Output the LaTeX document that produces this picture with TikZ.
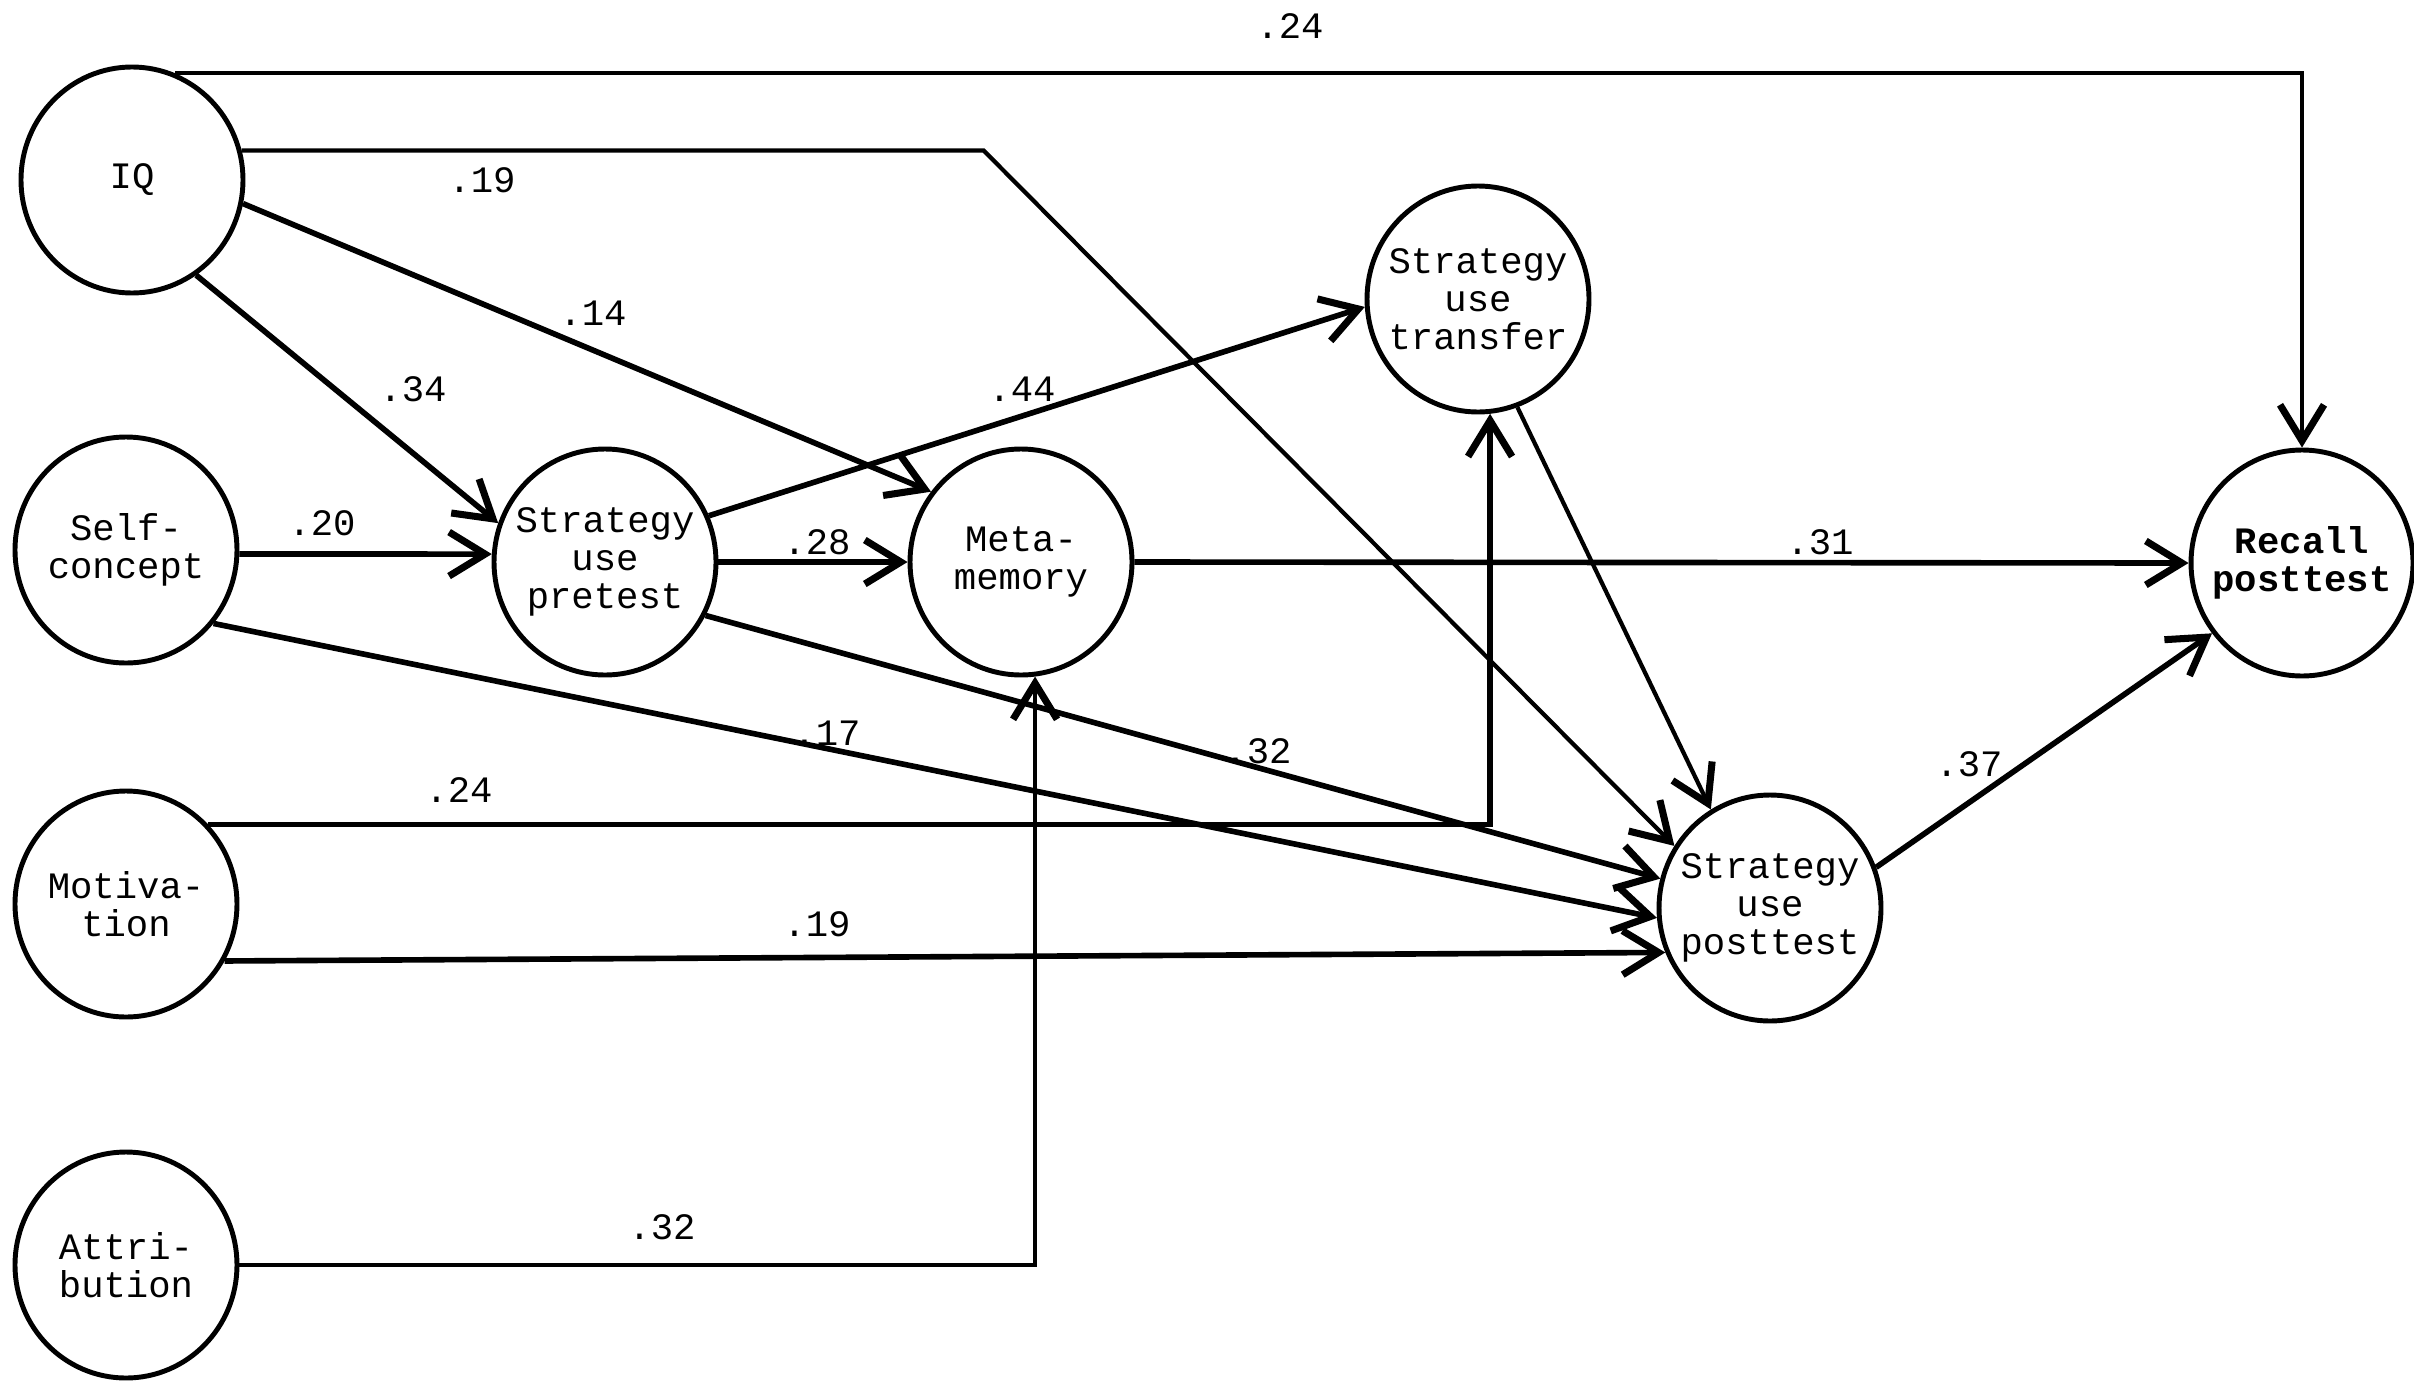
\documentclass[tikz,border=0pt]{standalone}
\usepackage{fontspec}
\setmonofont{Liberation Mono}
\usetikzlibrary{arrows.meta,shapes.geometric}

\begin{document}
\begin{tikzpicture}[scale=1]
	\tikzstyle{construct}=[ellipse,draw,line width=1.4pt,minimum width=2.22cm,minimum height=2.26cm,inner xsep=-0.4cm,inner ysep=0pt,align=center,font=\ttfamily\fontsize{10.6}{10.8}\selectfont]
	\tikzstyle{coefficient}=[font=\ttfamily\fontsize{10.6}{12}\selectfont,inner sep=1pt]
	\tikzstyle{causal}=[line width=1.6pt,-{Straight Barb[length=3.6mm,width=4.4mm,line width=2pt]}]
	\tikzstyle{thin causal}=[causal,line width=1.2pt]

	% Fix the page to the size of the scan.
	\useasboundingbox (0,0) rectangle (24.14,13.87);

	% Predictors down the left edge.
	\node (iq) at (1.32,12.07) [construct] {IQ};
	\node (self) at (1.26,8.37) [construct] {Self-\\concept};
	\node (motiv) at (1.26,4.83) [construct] {Motiva-\\tion};
	\node (attr) at (1.26,1.22) [construct] {Attri-\\bution};

	% Mediators and outcomes.
	\node (pre) at (6.05,8.25) [construct] {Strategy\\use\\pretest};
	\node (meta) at (10.21,8.25) [construct] {Meta-\\memory};
	\node (trans) at (14.78,10.88) [construct] {Strategy\\use\\transfer};
	\node (post) at (17.70,4.79) [construct] {Strategy\\use\\posttest};
	\node (recall) at (23.02,8.24) [construct,font=\ttfamily\bfseries\fontsize{10.6}{10.8}\selectfont] {Recall\\posttest};

	% Paths leaving IQ.
	\draw [thin causal] (iq.68) -| (recall.north);
	\node at (12.90,13.61) [coefficient] {.24};
	\draw [thin causal] (iq.15) -- ++(7.42,0) -- (post.147);
	\node at (4.82,12.07) [coefficient] {.19};
	\draw [causal] (iq.-12) -- (meta.142);
	\node at (5.93,10.74) [coefficient] {.14};
	\draw [causal] (iq.-56) -- (pre.160);
	\node at (4.13,9.98) [coefficient] {.34};

	% Paths leaving self-concept.
	\draw [causal] (self.-2) -- (pre.176);
	\node at (3.22,8.64) [coefficient] {.20};
	\draw [causal] (self.-40) -- (post.185);
	\node at (8.27,6.54) [coefficient] {.17};

	% Paths leaving the pretest.
	\draw [causal] (pre.0) -- (meta.180);
	\node at (8.17,8.45) [coefficient] {.28};
	\draw [causal] (pre.24) -- (trans.184);
	\node at (10.22,9.98) [coefficient] {.44};
	\draw [causal] (pre.-28) -- (post.165);
	\node at (12.58,6.36) [coefficient] {.32};

	% Paths leaving motivation and attribution.
	\draw [causal] (motiv.44) -| (trans.-84);
	\node at (4.59,5.97) [coefficient] {.24};
	\draw [causal] (motiv.-30) -- (post.203);
	\node at (8.17,4.63) [coefficient] {.19};
	\draw [thin causal] (attr.east) -| (meta.-83);
	\node at (6.62,1.60) [coefficient] {.32};

	% Paths into recall.
	\draw [causal] (meta.0) -- (recall.180);
	\node at (18.20,8.45) [coefficient] {.31};
	\draw [thin causal] (trans.-70) -- (post.121);
	\draw [causal] (post.21) -- (recall.218);
	\node at (19.69,6.23) [coefficient] {.37};
\end{tikzpicture}
\end{document}
